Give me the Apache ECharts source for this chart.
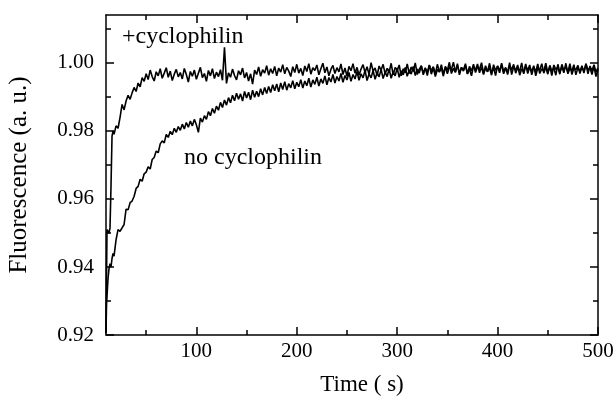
<!DOCTYPE html>
<html>
<head>
<meta charset="utf-8">
<style>html,body{margin:0;padding:0;background:#fff;}#chart{width:616px;height:397px;}</style>
<script src="https://cdn.jsdelivr.net/npm/echarts@6/dist/echarts.min.js"></script>
</head>
<body>
<div id="chart"></div>
<script>
// sample times (s)
const times = [10,10.5,11,12,13,14,15,16,17,18,20,22,24,26,28,
30,32,34,36,38,40,42,44,46,48,
50,52,54,56,58,60,62,64,66,68,
70,72,74,76,78,80,82,84,86,88,
90,92,94,96,98,100,102,104,106,108,
110,112,114,116,118,120,122,124,126,128,
130,132,134,136,138,140,142,144,146,148,
150,152,154,156,158,160,162,164,166,168,
170,172,174,176,178,180,182,184,186,188,
190,192,194,196,198,200,202,204,206,208,
210,212,214,216,218,220,222,224,226,228,
230,232,234,236,238,240,242,244,246,248,
250,252,254,256,258,260,262,264,266,268,
270,272,274,276,278,280,282,284,286,288,
290,292,294,296,298,300,302,304,306,308,
310,312,314,316,318,320,322,324,326,328,
330,332,334,336,338,340,342,344,346,348,
350,352,354,356,358,360,362,364,366,368,
370,372,374,376,378,380,382,384,386,388,
390,392,394,396,398,400,402,404,406,408,
410,412,414,416,418,420,422,424,426,428,
430,432,434,436,438,440,442,444,446,448,
450,452,454,456,458,460,462,464,466,468,
470,472,474,476,478,480,482,484,486,488,
490,492,494,496,498,500];

// +cyclophilin trace
const withCyclophilin = [0.9205,0.9360,0.9510,0.9505,0.9500,0.9515,0.9640,0.9785,0.9800,0.9790,0.9815,0.9808,0.9840,0.9878,0.9862,
0.9888,0.9905,0.9893,0.9912,0.9928,0.9916,0.9941,0.9930,0.9957,0.9946,
0.9968,0.9951,0.9979,0.9960,0.9947,0.9974,0.9962,0.9983,0.9955,0.9970,
0.9986,0.9958,0.9976,0.9948,0.9967,0.9981,0.9959,0.9972,0.9953,0.9984,
0.9966,0.9944,0.9975,0.9961,0.9979,0.9952,0.9970,0.9987,0.9957,0.9969,
0.9946,0.9978,0.9962,0.9983,0.9954,0.9973,0.9960,0.9980,0.9949,1.0046,
0.9940,0.9971,0.9958,0.9982,0.9963,0.9950,0.9977,0.9965,0.9985,0.9956,
0.9972,0.9947,0.9968,0.9938,0.9979,0.9966,0.9988,0.9961,0.9980,0.9970,
0.9992,0.9964,0.9983,0.9969,0.9990,0.9962,0.9985,0.9973,0.9995,0.9968,
0.9987,0.9976,0.9960,0.9989,0.9972,0.9996,0.9970,0.9984,0.9963,0.9991,
0.9975,0.9998,0.9967,0.9986,0.9978,0.9994,0.9965,0.9983,0.9999,0.9971,
0.9988,0.9962,0.9981,0.9993,0.9969,0.9986,0.9974,0.9997,0.9966,0.9985,
0.9961,0.9990,0.9977,0.9998,0.9970,0.9987,0.9964,0.9982,0.9995,0.9972,
0.9989,0.9966,1.0001,0.9976,0.9985,0.9963,0.9991,0.9979,0.9996,0.9968,
0.9984,0.9973,0.9999,0.9965,0.9987,0.9978,0.9994,0.9962,0.9983,0.9971,
0.9997,0.9969,0.9988,0.9975,1.0000,0.9966,0.9982,0.9991,0.9970,0.9986,
0.9963,0.9993,0.9977,0.9989,0.9967,0.9996,0.9974,0.9985,0.9961,0.9990,
0.9978,1.0002,0.9969,0.9984,0.9972,0.9998,0.9965,0.9987,0.9976,0.9993,
0.9968,0.9983,0.9962,0.9991,0.9979,0.9997,0.9971,0.9988,0.9966,0.9985,
0.9974,0.9999,0.9970,0.9986,0.9963,0.9992,0.9977,0.9995,0.9968,0.9984,
0.9973,1.0001,0.9966,0.9989,0.9978,0.9994,0.9964,0.9983,0.9972,0.9997,
0.9969,0.9987,0.9975,0.9992,0.9962,0.9985,0.9979,0.9998,0.9970,0.9988,
0.9967,0.9993,0.9976,0.9986,0.9964,0.9996,0.9973,0.9989,0.9971,0.9999,
0.9968,0.9984,0.9977,0.9995,0.9965,0.9987,0.9974,0.9992,0.9970,0.9998,
0.9979,0.9986,0.9966,0.9990,0.9960,0.9981];

// no cyclophilin trace
const noCyclophilin = [0.9205,0.9290,0.9315,0.9365,0.9395,0.9410,0.9400,0.9425,0.9440,0.9432,0.9480,0.9510,0.9505,0.9515,0.9525,
0.9570,0.9568,0.9589,0.9594,0.9608,0.9631,0.9637,0.9658,0.9652,0.9674,
0.9679,0.9695,0.9688,0.9716,0.9722,0.9741,0.9736,0.9762,0.9771,0.9765,
0.9790,0.9781,0.9799,0.9789,0.9808,0.9796,0.9813,0.9802,0.9820,0.9806,
0.9825,0.9811,0.9829,0.9815,0.9834,0.9818,0.9796,0.9838,0.9826,0.9845,
0.9834,0.9857,0.9845,0.9866,0.9852,0.9873,0.9861,0.9884,0.9869,0.9891,
0.9876,0.9898,0.9883,0.9905,0.9889,0.9911,0.9893,0.9909,0.9888,0.9916,
0.9897,0.9914,0.9892,0.9920,0.9899,0.9917,0.9901,0.9924,0.9906,0.9928,
0.9910,0.9931,0.9913,0.9936,0.9918,0.9938,0.9915,0.9941,0.9922,0.9945,
0.9920,0.9939,0.9927,0.9948,0.9924,0.9943,0.9930,0.9951,0.9926,0.9947,
0.9933,0.9955,0.9929,0.9950,0.9937,0.9958,0.9932,0.9953,0.9940,0.9962,
0.9936,0.9957,0.9944,0.9966,0.9941,0.9960,0.9947,0.9969,0.9943,0.9963,
0.9950,0.9972,0.9946,0.9966,0.9953,0.9975,0.9949,0.9968,0.9956,0.9978,
0.9948,0.9968,0.9956,0.9978,0.9952,0.9971,0.9959,0.9981,0.9954,0.9973,
0.9960,0.9982,0.9955,0.9974,0.9962,0.9985,0.9958,0.9977,0.9965,0.9987,
0.9961,0.9979,0.9967,0.9990,0.9963,0.9982,0.9970,0.9992,0.9965,0.9984,
0.9972,0.9994,0.9967,0.9986,0.9960,0.9981,0.9973,0.9995,0.9968,0.9987,
0.9968,0.9988,0.9980,1.0002,0.9974,0.9993,0.9970,0.9987,0.9979,0.9998,
0.9967,0.9990,0.9976,0.9996,0.9972,0.9988,0.9981,1.0001,0.9969,0.9992,
0.9975,0.9986,0.9964,0.9995,0.9978,0.9990,0.9971,0.9999,0.9974,0.9987,
0.9966,0.9993,0.9980,0.9996,0.9970,0.9985,0.9976,1.0000,0.9968,0.9991,
0.9979,0.9994,0.9965,0.9988,0.9974,0.9997,0.9969,0.9983,0.9976,0.9999,
0.9971,0.9989,0.9963,0.9994,0.9981,0.9987,0.9967,0.9996,0.9978,0.9990,
0.9972,0.9998,0.9966,0.9985,0.9980,0.9993,0.9969,0.9988,0.9975,0.9997,
0.9968,0.9991,0.9977,0.9995,0.9973,0.9986];

const xMajorTicks = [100,200,300,400,500];
const xMinorTicks = [50,150,250,350,450];
const yMajorTicks = [0.92,0.94,0.96,0.98,1.00];
const yMinorTicks = [0.93,0.95,0.97,0.99,1.01];
const labelWith = '+cyclophilin';
const labelWithout = 'no cyclophilin';

const FONT = 'Liberation Serif';
const gridBox = {left:106, right:18, top:15, bottom:62, outerBoundsMode:'none', containLabel:false};
const xRange = {min:10, max:500};
const yRange = {min:0.92, max:1.0141};

function pairs(ys){ return times.map((t,i)=>[t, ys[i]]); }

function xAx(grid, pos, ticks, len, labels, extra){
  return Object.assign({
    type:'value', gridIndex:grid, position:pos, min:xRange.min, max:xRange.max,
    axisLine:{show:grid===0, lineStyle:{color:'#000', width:1.5}},
    axisTick:{show:true, inside:true, length:len, customValues:ticks, lineStyle:{color:'#000', width:1.5}},
    axisLabel:{show:labels, customValues:ticks, color:'#000', fontFamily:FONT, fontSize:21, margin:6},
    splitLine:{show:false}
  }, extra||{});
}
function yAx(grid, pos, ticks, len, labels, extra){
  return Object.assign({
    type:'value', gridIndex:grid, position:pos, min:yRange.min, max:yRange.max,
    axisLine:{show:grid===0, lineStyle:{color:'#000', width:1.5}},
    axisTick:{show:true, inside:true, length:len, customValues:ticks, lineStyle:{color:'#000', width:1.5}},
    axisLabel:{show:labels, customValues:ticks, color:'#000', fontFamily:FONT, fontSize:21, margin:12,
      formatter:(v)=>Number(v).toFixed(2)},
    splitLine:{show:false}
  }, extra||{});
}

const chart = echarts.init(document.getElementById('chart'), null, {renderer:'canvas'});
chart.setOption({
  animation:false,
  backgroundColor:'#fff',
  grid:[Object.assign({}, gridBox), Object.assign({}, gridBox)],
  xAxis:[
    xAx(0,'bottom',xMajorTicks,8,true,{name:'Time ( s)', nameLocation:'middle', nameGap:38,
      nameTextStyle:{color:'#000', fontFamily:FONT, fontSize:23, padding:[0,0,0,20]}}),
    xAx(0,'top',xMajorTicks,8,false),
    xAx(1,'bottom',xMinorTicks,5,false),
    xAx(1,'top',xMinorTicks,5,false)
  ],
  yAxis:[
    yAx(0,'left',yMajorTicks,8,true,{name:'Fluorescence (a. u.)', nameLocation:'middle', nameGap:74,
      nameTextStyle:{color:'#000', fontFamily:FONT, fontSize:25}}),
    yAx(0,'right',yMajorTicks,8,false),
    yAx(1,'left',yMinorTicks,5,false),
    yAx(1,'right',yMinorTicks,5,false)
  ],
  series:[
    {type:'line', xAxisIndex:0, yAxisIndex:0, data:pairs(noCyclophilin), showSymbol:false,
     lineStyle:{color:'#000', width:1.6}, clip:true},
    {type:'line', xAxisIndex:0, yAxisIndex:0, data:pairs(withCyclophilin), showSymbol:false,
     lineStyle:{color:'#000', width:1.6}, clip:true}
  ],
  graphic:[
    {type:'text', left:122, top:25, style:{text:labelWith, fill:'#000', font:'24px "Liberation Serif"'}},
    {type:'text', left:184, top:146, style:{text:labelWithout, fill:'#000', font:'24px "Liberation Serif"'}}
  ]
});
</script>
</body>
</html>
